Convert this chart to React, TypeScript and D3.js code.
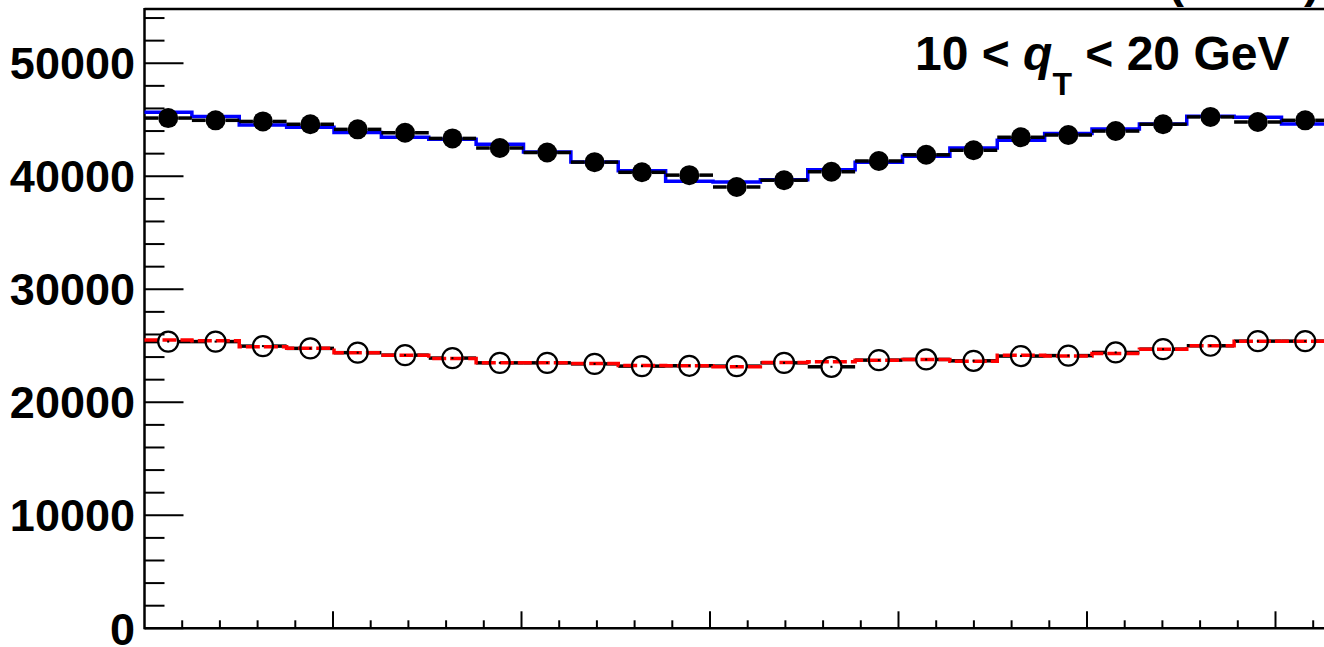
import React from 'react';
import * as d3 from 'd3';

// 25 bins over [0, 2pi]
const nBins = 25;

// filled points (upper data)
const dataFilled = [45150, 44950, 44850, 44600, 44150, 43850, 43350, 42500, 42100, 41250, 40350, 40100, 39050,
  39650, 40400, 41350, 41900, 42300, 43450, 43650, 44000, 44600, 45250, 44800, 44950];
// blue step histogram
const blueHist = [45670, 45290, 44540, 44340, 43870, 43460, 43280, 42840, 42150, 41270, 40490, 39560, 39500,
  39700, 40580, 41240, 41770, 42510, 43190, 43780, 44190, 44630, 45310, 45220, 44630];
// open points (lower data)
const dataOpen = [25370, 25370, 24970, 24770, 24390, 24170, 23910, 23490, 23490, 23400, 23200, 23230, 23200,
  23490, 23140, 23730, 23790, 23670, 24090, 24130, 24410, 24700, 25000, 25410, 25410];
// red dashed step histogram
const redHist = [25500, 25440, 24910, 24770, 24380, 24170, 23880, 23490, 23490, 23440, 23260, 23230, 23140,
  23530, 23580, 23730, 23790, 23640, 24170, 24090, 24320, 24700, 25000, 25410, 25410];

const yMajor = [0, 10000, 20000, 30000, 40000, 50000];
const yLabels = ['0', '10000', '20000', '30000', '40000', '50000'];
const xMajor = [1, 2, 3, 4, 5, 6];

const W = 1324;
const H = 647;
const FONT = 'Liberation Sans, Arial, Helvetica, sans-serif';

export default function App() {
  const x = d3.scaleLinear().domain([0, 2 * Math.PI]).range([144.5, 144.5 + 2 * Math.PI * 188.5]);
  const y = d3.scaleLinear().domain([0, 54800]).range([628.3, 9]);

  const binW = (2 * Math.PI) / nBins;
  const edges = d3.range(nBins + 1).map(i => i * binW);
  const centers = d3.range(nBins).map(i => (i + 0.5) * binW);

  const stepLine = (vals: number[]) => {
    const pts: [number, number][] = vals.map((v, i) => [edges[i], v]);
    pts.push([edges[nBins], vals[nBins - 1]]);
    return d3.line<[number, number]>()
      .x(d => x(d[0]))
      .y(d => y(d[1]))
      .curve(d3.curveStepAfter)(pts) || '';
  };

  const yMinor = d3.range(0, 55000, 2000).filter(v => v % 10000 !== 0);
  const xMinor = d3.range(1, 32).map(i => i * 0.2).filter(v => Math.abs(v - Math.round(v)) > 1e-6);

  const r = 10;
  const bars = (vals: number[], key: string) =>
    vals.map((v, i) => {
      const cx = x(centers[i]);
      const cy = y(v);
      return (
        <g key={key + i}>
          <line x1={x(edges[i])} x2={cx - r} y1={cy} y2={cy} stroke="#000" strokeWidth={3.5} />
          <line x1={cx + r} x2={x(edges[i + 1])} y1={cy} y2={cy} stroke="#000" strokeWidth={3.5} />
        </g>
      );
    });

  return (
    <div style={{ position: 'absolute', left: 0, top: 0 }}>
      <svg width={W} height={H} style={{ display: 'block', background: '#fff' }}>
        {/* frame */}
        <line x1={x(0)} x2={x(2 * Math.PI) + 2} y1={9} y2={9} stroke="#000" strokeWidth={2.5} />
        <line x1={x(0)} x2={x(0)} y1={8} y2={y(0) + 1} stroke="#000" strokeWidth={2.5} />
        <line x1={x(0)} x2={x(2 * Math.PI) + 2} y1={y(0)} y2={y(0)} stroke="#000" strokeWidth={2.5} />

        {/* y ticks */}
        {yMajor.map(v => (
          <line key={'ym' + v} x1={x(0)} x2={x(0) + 39} y1={y(v)} y2={y(v)} stroke="#000" strokeWidth={2} />
        ))}
        {yMinor.map(v => (
          <line key={'yn' + v} x1={x(0)} x2={x(0) + 20} y1={y(v)} y2={y(v)} stroke="#000" strokeWidth={2} />
        ))}
        {yMajor.map((v, i) => (
          <text key={'yl' + v} x={135} y={y(v)} dy="0.36em" textAnchor="end" fontFamily={FONT}
            fontWeight="bold" fontSize={45}>{yLabels[i]}</text>
        ))}

        {/* x ticks */}
        {xMajor.map(v => (
          <line key={'xm' + v} x1={x(v)} x2={x(v)} y1={y(0)} y2={y(0) - 17} stroke="#000" strokeWidth={2} />
        ))}
        {xMinor.map(v => (
          <line key={'xn' + v} x1={x(v)} x2={x(v)} y1={y(0)} y2={y(0) - 8} stroke="#000" strokeWidth={2} />
        ))}

        {/* upper: blue histogram + filled data */}
        <path d={stepLine(blueHist)} fill="none" stroke="#0000ff" strokeWidth={3.5} />
        {bars(dataFilled, 'bf')}
        {dataFilled.map((v, i) => (
          <circle key={'pf' + i} cx={x(centers[i])} cy={y(v)} r={r} fill="#000" />
        ))}

        {/* lower: open data + red dashed histogram */}
        {bars(dataOpen, 'bo')}
        <path d={stepLine(redHist)} fill="none" stroke="#ff0000" strokeWidth={3.5} strokeDasharray="14 4" />
        {dataOpen.map((v, i) => (
          <g key={'po' + i}>
            <circle cx={x(centers[i])} cy={y(v)} r={r} fill="none" stroke="#000" strokeWidth={2.2} />
            <rect x={x(centers[i]) - 1} y={y(v) - 1} width={2} height={2} fill="#000" />
          </g>
        ))}

        {/* labels */}
        <text x={915} y={70} fontFamily={FONT} fontWeight="bold" fontSize={48}>
          10 &lt; <tspan fontStyle="italic">q</tspan>
          <tspan fontSize={32} dy={25}>T</tspan>
          <tspan dy={-25}> &lt; 20 GeV</tspan>
        </text>
        <text x={1168} y={-3} fontFamily={FONT} fontWeight="bold" fontSize={48}>(</text>
        <text x={1304} y={-3} fontFamily={FONT} fontWeight="bold" fontSize={48}>)</text>
      </svg>
    </div>
  );
}
